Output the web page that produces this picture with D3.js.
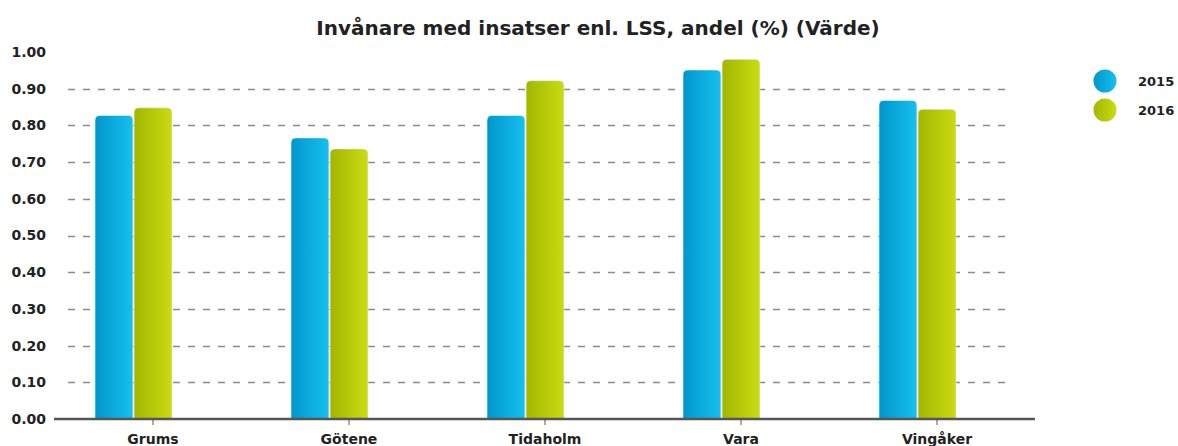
<!DOCTYPE html>
<html>
<head>
<meta charset="utf-8">
<script src="https://cdn.jsdelivr.net/npm/d3@7"></script>
<style>
  body { margin: 0; background: #fff; }
  text { font-family: "DejaVu Sans", Verdana, sans-serif; }
</style>
</head>
<body>
<div id="chart"></div>
<script>
// data
var categories = ["Grums", "Götene", "Tidaholm", "Vara", "Vingåker"];
var seriesNames = ["2015", "2016"];
var values2015 = [0.827, 0.766, 0.827, 0.951, 0.868];
var values2016 = [0.848, 0.736, 0.922, 0.980, 0.844];
var yTicks = [0, 0.1, 0.2, 0.3, 0.4, 0.5, 0.6, 0.7, 0.8, 0.9, 1.0];

var W = 1178, H = 446;
var margin = {top: 52, right: 143, bottom: 27, left: 55};
var width = W - margin.left - margin.right,
    height = H - margin.top - margin.bottom;

var svg = d3.select("#chart").append("svg")
  .attr("width", W)
  .attr("height", H);

var defs = svg.append("defs");
var grads = [["#0096cc", "#16c0ee"], ["#a2b600", "#c9dc12"]];
grads.forEach(function(c, i) {
  var g = defs.append("linearGradient")
    .attr("id", "grad" + i)
    .attr("x1", "0%").attr("x2", "100%").attr("y1", "0%").attr("y2", "0%");
  g.append("stop").attr("offset", "0%").attr("stop-color", c[0]);
  g.append("stop").attr("offset", "100%").attr("stop-color", c[1]);
});

var data = categories.map(function(c, i) {
  return {cat: c, vals: [values2015[i], values2016[i]]};
});

var x0 = d3.scaleBand().domain(categories).range([0, width]).paddingInner(0).paddingOuter(0);
var x1 = d3.scaleBand().domain(seriesNames).range([0, 77]).paddingInner(0.03);
var y = d3.scaleLinear().domain([0, 1]).range([height, 0]);

var g = svg.append("g").attr("transform", "translate(" + margin.left + "," + margin.top + ")");

// title
svg.append("text")
  .attr("x", 598)
  .attr("y", 35)
  .attr("text-anchor", "middle")
  .attr("font-size", 20)
  .attr("font-weight", "bold")
  .attr("fill", "#222")
  .text("Invånare med insatser enl. LSS, andel (%) (Värde)");

// grid
g.append("g")
  .selectAll("line")
  .data(yTicks.filter(function(t) { return t > 0 && t < 1; }))
  .enter().append("line")
    .attr("x1", 13)
    .attr("x2", 958)
    .attr("y1", function(d) { return Math.round(y(d)) + 0.5; })
    .attr("y2", function(d) { return Math.round(y(d)) + 0.5; })
    .attr("stroke", "#8a8a8a")
    .attr("stroke-width", 1.5)
    .attr("stroke-dasharray", "7,8");

// y labels
g.append("g")
  .selectAll("text")
  .data(yTicks)
  .enter().append("text")
    .attr("x", -9)
    .attr("y", function(d) { return y(d); })
    .attr("dy", "0.35em")
    .attr("text-anchor", "end")
    .attr("font-size", 14)
    .attr("font-weight", "bold")
    .attr("fill", "#222")
    .text(function(d) { return d3.format(".2f")(d); });

// rounded-top bar path
function barPath(x, yTop, w, h, r) {
  r = Math.min(r, h, w / 2);
  return "M" + x + "," + (yTop + h) +
    "V" + (yTop + r) +
    "Q" + x + "," + yTop + " " + (x + r) + "," + yTop +
    "H" + (x + w - r) +
    "Q" + (x + w) + "," + yTop + " " + (x + w) + "," + (yTop + r) +
    "V" + (yTop + h) + "Z";
}

// bar groups sit left of the category centre (as in the original)
var groups = g.append("g")
  .selectAll("g")
  .data(data)
  .enter().append("g")
    .attr("transform", function(d) {
      return "translate(" + (x0(d.cat) + x0.bandwidth() / 2 - 58) + ",0)";
    });

groups.selectAll("path")
  .data(function(d) { return d.vals.map(function(v, i) { return {key: seriesNames[i], i: i, value: v}; }); })
  .enter().append("path")
    .attr("d", function(d) {
      return barPath(x1(d.key), y(d.value), x1.bandwidth(), height - y(d.value), 5);
    })
    .attr("fill", function(d) { return "url(#grad" + d.i + ")"; })
    .attr("stroke", "#e8f4f8")
    .attr("stroke-width", 0.6);

// x axis
var xAxis = g.append("g")
  .attr("transform", "translate(0," + height + ")");
xAxis.append("line")
  .attr("x1", -1).attr("x2", width)
  .attr("stroke", "#555").attr("stroke-width", 2.5);
xAxis.selectAll(".tick")
  .data(categories)
  .enter().append("line")
    .attr("x1", function(d) { return x0(d) + x0.bandwidth() / 2; })
    .attr("x2", function(d) { return x0(d) + x0.bandwidth() / 2; })
    .attr("y1", 1).attr("y2", 6)
    .attr("stroke", "#555").attr("stroke-width", 1);
xAxis.selectAll("text")
  .data(categories)
  .enter().append("text")
    .attr("x", function(d) { return x0(d) + x0.bandwidth() / 2; })
    .attr("y", 25)
    .attr("text-anchor", "middle")
    .attr("font-size", 14)
    .attr("font-weight", "bold")
    .attr("fill", "#222")
    .text(function(d) { return d; });

// legend
var legend = svg.append("g")
  .selectAll("g")
  .data(seriesNames)
  .enter().append("g")
    .attr("transform", function(d, i) { return "translate(1105," + (81 + i * 29) + ")"; });
legend.append("circle")
  .attr("r", 11.5)
  .attr("fill", function(d, i) { return "url(#grad" + i + ")"; });
legend.append("text")
  .attr("x", 33)
  .attr("dy", "0.35em")
  .attr("font-size", 13)
  .attr("font-weight", "bold")
  .attr("fill", "#222")
  .text(function(d) { return d; });
</script>
</body>
</html>
